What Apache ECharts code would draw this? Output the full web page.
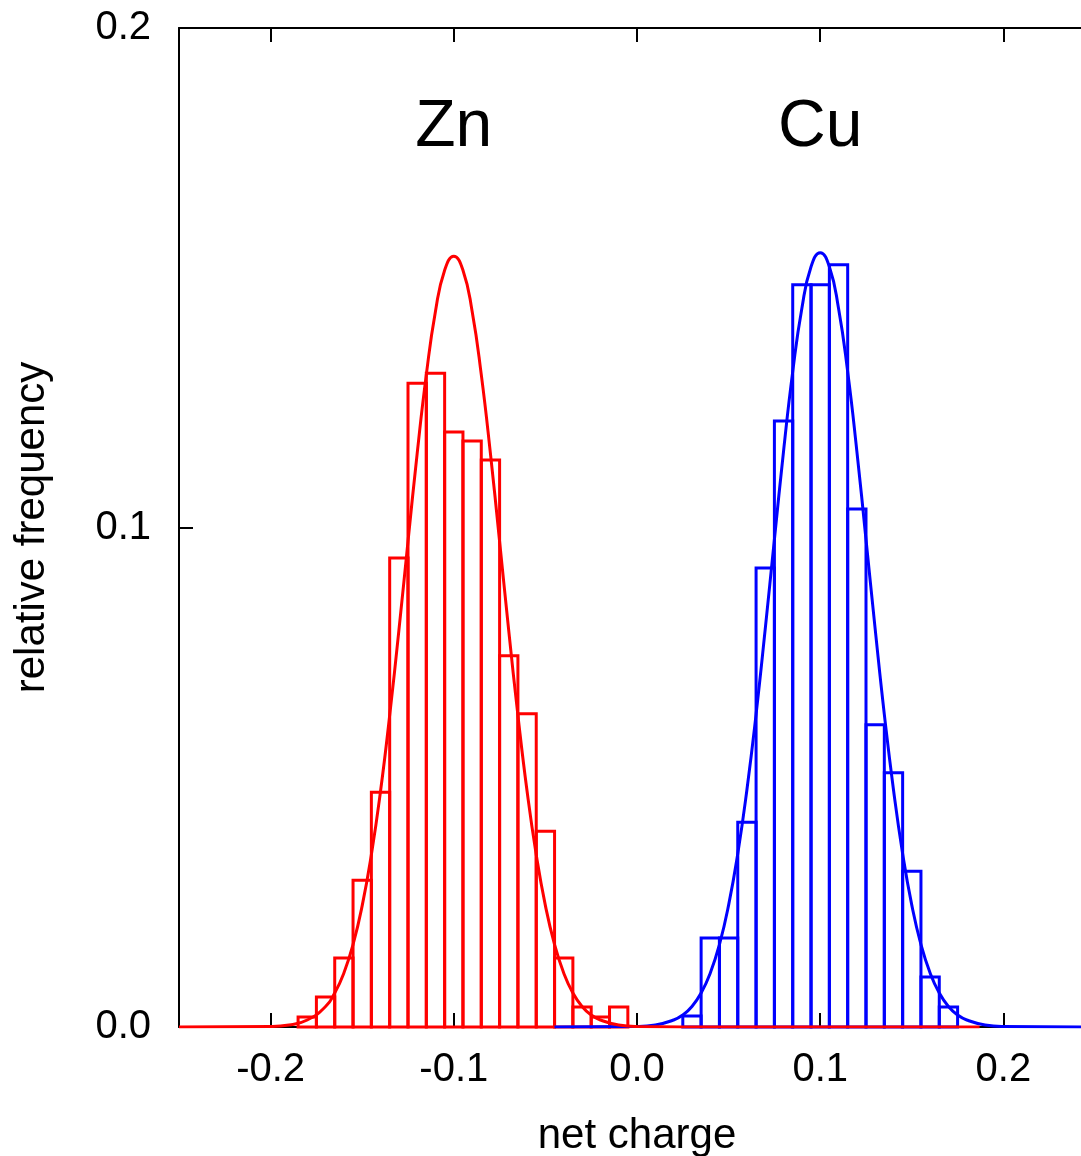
<!DOCTYPE html>
<html>
<head>
<meta charset="utf-8">
<script src="https://cdn.jsdelivr.net/npm/echarts@6/dist/echarts.min.js"></script>
<style>
  html, body { margin: 0; padding: 0; background: #fff; }
  #chart { width: 1081px; height: 1156px; }
</style>
</head>
<body>
<div id="chart"></div>
<script>
// Histogram bins (centres, width 0.01) and relative frequencies
const binWidth = 0.01;
const znBins = [-0.18, -0.17, -0.16, -0.15, -0.14, -0.13, -0.12, -0.11, -0.10, -0.09,
                -0.08, -0.07, -0.06, -0.05, -0.04, -0.03, -0.02, -0.01];
const znFreq = [0.0020, 0.0060, 0.0138, 0.0294, 0.0470, 0.0939, 0.1289, 0.1309, 0.1191, 0.1173,
                0.1135, 0.0743, 0.0627, 0.0392, 0.0138, 0.0040, 0.0020, 0.0040];
const cuBins = [0.03, 0.04, 0.05, 0.06, 0.07, 0.08, 0.09, 0.10, 0.11, 0.12,
                0.13, 0.14, 0.15, 0.16, 0.17];
const cuFreq = [0.0022, 0.0178, 0.0178, 0.0410, 0.0919, 0.1213, 0.1486, 0.1486, 0.1526, 0.1037,
                0.0605, 0.0509, 0.0312, 0.0100, 0.0040];

// Fitted distribution curves (sampled points)
const znFitX = [-0.25, -0.20, -0.19, -0.18, -0.17, -0.165, -0.16, -0.155, -0.15, -0.145,
                -0.14, -0.135, -0.13, -0.125, -0.12, -0.115, -0.11, -0.105, -0.10, -0.095,
                -0.09, -0.085, -0.08, -0.075, -0.07, -0.065, -0.06, -0.055, -0.05, -0.045,
                -0.04, -0.035, -0.03, -0.025, -0.02, -0.01, 0.00, 0.05, 0.187];
const znFitY = [0, 0.0001, 0.0004, 0.0014, 0.0041, 0.0068, 0.0108, 0.0165, 0.0243, 0.0345,
                0.0472, 0.0624, 0.0793, 0.0972, 0.1148, 0.1306, 0.1433, 0.1515, 0.1543, 0.1515,
                0.1433, 0.1306, 0.1148, 0.0972, 0.0793, 0.0624, 0.0472, 0.0345, 0.0243, 0.0165,
                0.0108, 0.0068, 0.0041, 0.0024, 0.0014, 0.0004, 0.0001, 0, 0];
const cuFitX = [-0.045, 0.00, 0.01, 0.02, 0.025, 0.03, 0.035, 0.04, 0.045, 0.05, 0.055,
                0.06, 0.065, 0.07, 0.075, 0.08, 0.085, 0.09, 0.095, 0.10, 0.105,
                0.11, 0.115, 0.12, 0.125, 0.13, 0.135, 0.14, 0.145, 0.15, 0.155,
                0.16, 0.165, 0.17, 0.175, 0.18, 0.19, 0.20, 0.25];
const cuFitY = [0, 0.0001, 0.0004, 0.0014, 0.0024, 0.0041, 0.0068, 0.0108, 0.0165, 0.0244, 0.0347,
                0.0475, 0.0626, 0.0797, 0.0976, 0.1153, 0.1312, 0.1439, 0.1522, 0.1550, 0.1522,
                0.1439, 0.1312, 0.1153, 0.0976, 0.0797, 0.0626, 0.0475, 0.0347, 0.0244, 0.0165,
                0.0108, 0.0068, 0.0041, 0.0024, 0.0014, 0.0004, 0.0001, 0];

// Axis ticks and element labels
const xTicks = [-0.2, -0.1, 0.0, 0.1, 0.2];
const labels = [
  { name: 'Zn', x: -0.1, y: 0.18 },
  { name: 'Cu', x: 0.1, y: 0.18 }
];

const RED = '#ff0000';
const BLUE = '#0000ff';
const FONT = '"Liberation Sans", Arial, sans-serif';
const LW = 3;

function zip(xs, ys) { return xs.map((x, i) => [x, ys[i]]); }

function histSeries(bins, freq, color) {
  return {
    type: 'custom',
    data: zip(bins, freq),
    clip: false,
    renderItem: function (params, api) {
      const c = api.value(0), v = api.value(1);
      const p0 = api.coord([c - binWidth / 2, v]);
      const p1 = api.coord([c + binWidth / 2, 0]);
      return {
        type: 'rect',
        shape: { x: p0[0], y: p0[1], width: p1[0] - p0[0], height: p1[1] - p0[1] },
        style: { fill: 'none', stroke: color, lineWidth: LW }
      };
    }
  };
}

function fitSeries(xs, ys, color) {
  return {
    type: 'line',
    data: zip(xs, ys),
    showSymbol: false,
    smooth: 0.5,
    lineStyle: { color: color, width: LW },
    itemStyle: { color: color },
    silent: true
  };
}

const axisLine = { show: true, onZero: false, lineStyle: { color: '#000', width: 2 } };
const axisTick = { show: true, inside: true, length: 14, lineStyle: { color: '#000', width: 2 } };

const chart = echarts.init(document.getElementById('chart'));
chart.setOption({
  animation: false,
  backgroundColor: '#fff',
  grid: { left: 179, top: 28, right: -14, bottom: 129, containLabel: false, outerBoundsMode: 'none' },
  xAxis: [
    {
      type: 'value', min: -0.25, max: 0.25, position: 'bottom',
      axisLine: axisLine,
      axisTick: Object.assign({ customValues: xTicks }, axisTick),
      splitLine: { show: false },
      axisLabel: {
        customValues: xTicks,
        formatter: v => v.toFixed(1),
        color: '#000', fontSize: 40, fontFamily: FONT, margin: 23
      },
      name: 'net charge', nameLocation: 'middle', nameGap: 88,
      nameTextStyle: { color: '#000', fontSize: 42, fontFamily: FONT }
    },
    {
      type: 'value', min: -0.25, max: 0.25, position: 'top',
      axisLine: axisLine,
      axisTick: Object.assign({ customValues: xTicks }, axisTick),
      axisLabel: { show: false },
      splitLine: { show: false }
    }
  ],
  yAxis: [
    {
      type: 'value', min: 0, max: 0.2, interval: 0.1, position: 'left',
      axisLine: axisLine, axisTick: axisTick,
      splitLine: { show: false },
      axisLabel: {
        formatter: v => v.toFixed(1),
        color: '#000', fontSize: 40, fontFamily: FONT, margin: 28
      },
      name: 'relative frequency', nameLocation: 'middle', nameGap: 126, nameRotate: 90,
      nameTextStyle: { color: '#000', fontSize: 42, fontFamily: FONT }
    },
    {
      type: 'value', min: 0, max: 0.2, interval: 0.1, position: 'right',
      axisLine: axisLine, axisTick: axisTick,
      splitLine: { show: false },
      axisLabel: { show: false }
    }
  ],
  series: [
    histSeries(cuBins, cuFreq, BLUE),
    fitSeries(cuFitX, cuFitY, BLUE),
    histSeries(znBins, znFreq, RED),
    fitSeries(znFitX, znFitY, RED),
    {
      type: 'scatter',
      symbolSize: 0,
      silent: true,
      itemStyle: { opacity: 1 },
      data: labels.map(l => ({ name: l.name, value: [l.x, l.y] })),
      label: {
        show: true, position: 'inside', opacity: 1,
        formatter: p => p.name,
        color: '#000', fontSize: 66, fontFamily: FONT
      }
    }
  ]
});
</script>
</body>
</html>
